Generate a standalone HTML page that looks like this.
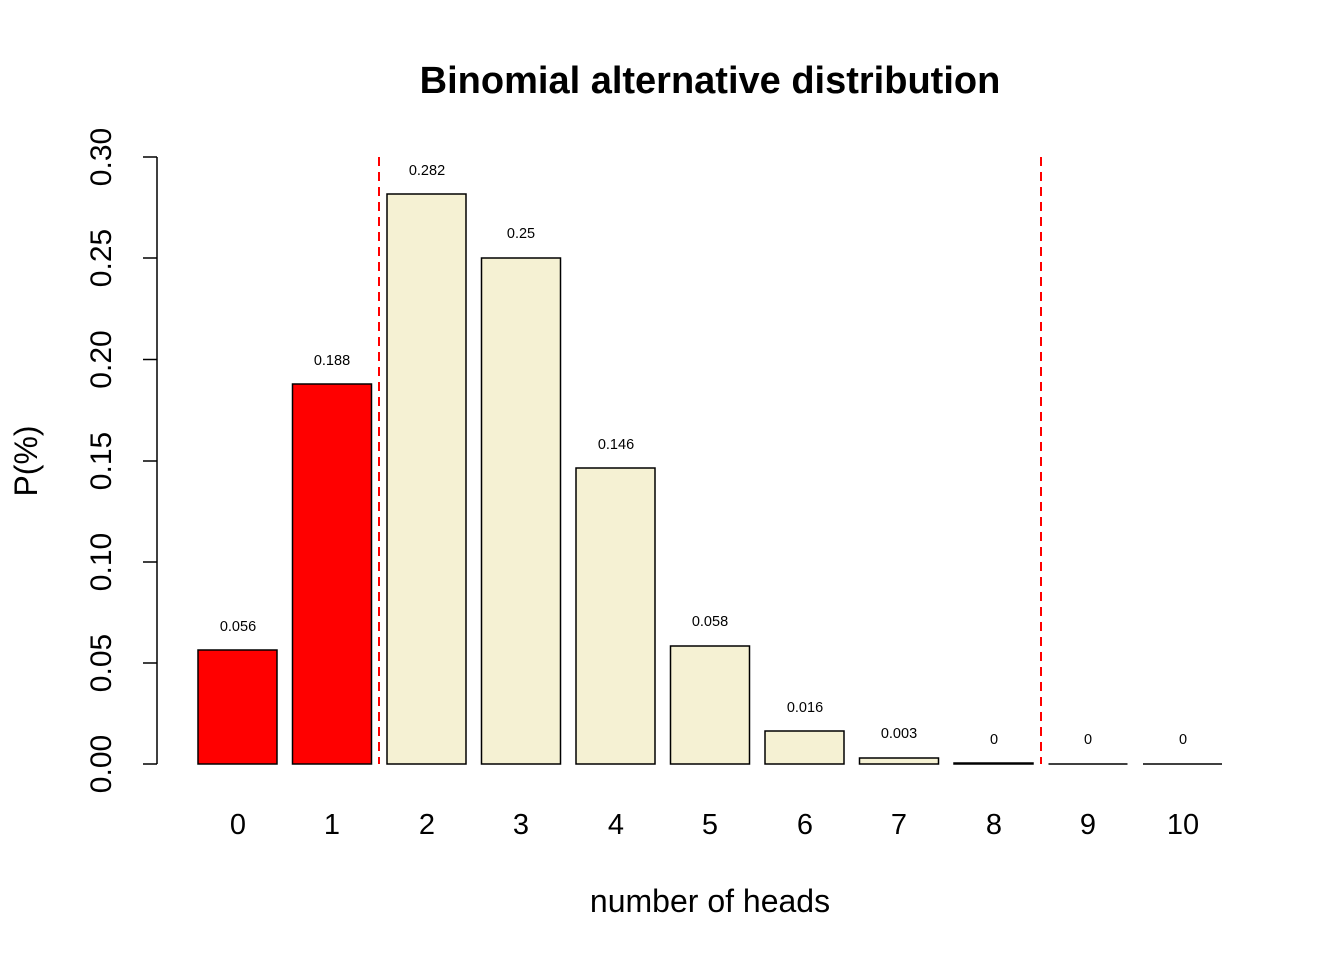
<!DOCTYPE html>
<html><head><meta charset="utf-8"><style>
html,body{margin:0;padding:0;background:#fff;}
svg{display:block;}
text{font-family:"Liberation Sans",Arial,sans-serif;fill:#000;}
</style></head><body>
<svg width="1344" height="960" viewBox="0 0 1344 960" xmlns="http://www.w3.org/2000/svg">
<text x="710" y="93" font-size="38" font-weight="bold" text-anchor="middle">Binomial alternative distribution</text>
<line x1="157" y1="157" x2="157" y2="764" stroke="#000" stroke-width="1.5"/>
<g stroke="#000" stroke-width="1.5">
<line x1="143" y1="157" x2="157" y2="157"/>
<line x1="143" y1="258" x2="157" y2="258"/>
<line x1="143" y1="359.5" x2="157" y2="359.5"/>
<line x1="143" y1="461" x2="157" y2="461"/>
<line x1="143" y1="562" x2="157" y2="562"/>
<line x1="143" y1="663" x2="157" y2="663"/>
<line x1="143" y1="764" x2="157" y2="764"/>
</g>
<g font-size="30" text-anchor="middle">
<text transform="translate(111,157) rotate(-90)">0.30</text>
<text transform="translate(111,258) rotate(-90)">0.25</text>
<text transform="translate(111,359.5) rotate(-90)">0.20</text>
<text transform="translate(111,461) rotate(-90)">0.15</text>
<text transform="translate(111,562) rotate(-90)">0.10</text>
<text transform="translate(111,663) rotate(-90)">0.05</text>
<text transform="translate(111,764) rotate(-90)">0.00</text>
</g>
<text transform="translate(37,461) rotate(-90)" font-size="32" text-anchor="middle">P(%)</text>
<g stroke="#000" stroke-width="1.5">
<rect x="198" y="650" width="79" height="114" fill="#ff0000"/>
<rect x="292.5" y="384" width="79" height="380" fill="#ff0000"/>
<rect x="387" y="194" width="79" height="570" fill="#f5f1d3"/>
<rect x="481.5" y="258" width="79" height="506" fill="#f5f1d3"/>
<rect x="576" y="468" width="79" height="296" fill="#f5f1d3"/>
<rect x="670.5" y="646" width="79" height="118" fill="#f5f1d3"/>
<rect x="765" y="731" width="79" height="33" fill="#f5f1d3"/>
<rect x="859.5" y="758" width="79" height="6" fill="#f5f1d3"/>
<rect x="954" y="763" width="79" height="1" fill="#f5f1d3"/>
<line x1="1048.5" y1="764" x2="1127.5" y2="764"/>
<line x1="1143" y1="764" x2="1222" y2="764"/>
</g>
<g font-size="14.5" text-anchor="middle">
<text x="238" y="631">0.056</text>
<text x="332" y="365">0.188</text>
<text x="427" y="175">0.282</text>
<text x="521" y="238">0.25</text>
<text x="616" y="449">0.146</text>
<text x="710" y="626">0.058</text>
<text x="805" y="712">0.016</text>
<text x="899" y="738">0.003</text>
<text x="994" y="744">0</text>
<text x="1088" y="744">0</text>
<text x="1183" y="744">0</text>
</g>
<g stroke="#ff0000" stroke-width="2" stroke-dasharray="9,6">
<line x1="379" y1="157" x2="379" y2="764"/>
<line x1="1041" y1="157" x2="1041" y2="764"/>
</g>
<g font-size="29" text-anchor="middle">
<text x="238" y="834">0</text>
<text x="332" y="834">1</text>
<text x="427" y="834">2</text>
<text x="521" y="834">3</text>
<text x="616" y="834">4</text>
<text x="710" y="834">5</text>
<text x="805" y="834">6</text>
<text x="899" y="834">7</text>
<text x="994" y="834">8</text>
<text x="1088" y="834">9</text>
<text x="1183" y="834">10</text>
</g>
<text x="710" y="912" font-size="32" text-anchor="middle">number of heads</text>
</svg>
</body></html>
